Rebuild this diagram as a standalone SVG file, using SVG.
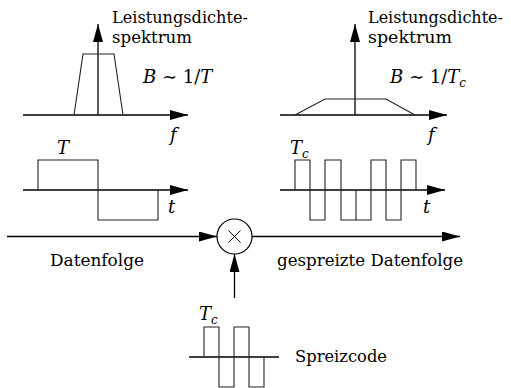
<svg xmlns="http://www.w3.org/2000/svg" width="511" height="388" viewBox="0 0 511 388">
<style>
.ax{stroke:#000;stroke-width:1.3;fill:none}
.wv{stroke:#222;stroke-width:1.1;fill:none}
text{font-family:'DejaVu Serif','Liberation Serif',serif;font-size:17px;fill:#000}
.m{font-size:18px}
.it{font-style:italic}
.sub{font-size:12px;font-style:italic}
</style>
<defs>
<marker id="ah" markerUnits="userSpaceOnUse" markerWidth="18" markerHeight="10" refX="18" refY="5" orient="auto">
<path d="M0,0 L18,5 L0,10 Z" fill="#000"/>
</marker>
</defs>
<g id="spectrum-left">
<line class="ax" x1="23" y1="115" x2="188" y2="115" marker-end="url(#ah)"/>
<line class="ax" x1="98" y1="115" x2="98" y2="24" marker-end="url(#ah)"/>
<polyline class="wv" points="74,115 83,54 114,54 123,115"/>
<text x="112" y="23" textLength="136" lengthAdjust="spacingAndGlyphs">Leistungsdichte-</text>
<text x="112" y="43" textLength="80" lengthAdjust="spacingAndGlyphs">spektrum</text>
<text class="m" x="143" y="83"><tspan class="it">B</tspan> ∼ 1/<tspan class="it">T</tspan></text>
<text class="m it" x="170" y="141">f</text>
</g>
<g id="spectrum-right">
<line class="ax" x1="280" y1="115" x2="447" y2="115" marker-end="url(#ah)"/>
<line class="ax" x1="355" y1="115" x2="355" y2="24" marker-end="url(#ah)"/>
<polyline class="wv" points="295,115 325,99 386,99 415,115"/>
<text x="368" y="23" textLength="135" lengthAdjust="spacingAndGlyphs">Leistungsdichte-</text>
<text x="368" y="43" textLength="84" lengthAdjust="spacingAndGlyphs">spektrum</text>
<text class="m" x="390" y="83"><tspan class="it">B</tspan> ∼ 1/<tspan class="it">T</tspan><tspan class="sub" dy="4">c</tspan></text>
<text class="m it" x="428" y="141">f</text>
</g>
<g id="data-signal">
<line class="ax" x1="23" y1="190" x2="188" y2="190" marker-end="url(#ah)"/>
<polyline class="wv" points="38,190 38,160 98,160 98,220 158,220 158,190"/>
<text class="m it" x="57" y="154">T</text>
<text class="m it" x="168" y="213">t</text>
</g>
<g id="spread-signal">
<line class="ax" x1="280" y1="190" x2="445" y2="190" marker-end="url(#ah)"/>
<polyline class="wv" points="295,190 295,160 310,160 310,220 325,220 325,160 341,160 341,220 356,220 356,190 356,220 371,220 371,160 386,160 386,220 401,220 401,160 416,160 416,190"/>
<text class="m" x="290" y="154"><tspan class="it">T</tspan><tspan class="sub" dy="4">c</tspan></text>
<text class="m it" x="423" y="213">t</text>
</g>
<g id="code-signal">
<line class="ax" x1="189" y1="357" x2="279" y2="357"/>
<polyline class="wv" points="204,357 204,327 219,327 219,387 234,387 234,327 249,327 249,387 264,387 264,357"/>
<text class="m" x="199" y="320"><tspan class="it">T</tspan><tspan class="sub" dy="4">c</tspan></text>
<text x="295" y="362" textLength="92" lengthAdjust="spacingAndGlyphs">Spreizcode</text>
</g>
<g id="multiplier">
<circle cx="234.5" cy="236.5" r="17.5" fill="none" stroke="#000" stroke-width="1.2"/>
<path d="M228.5,230.5 L240.5,242.5 M240.5,230.5 L228.5,242.5" stroke="#000" stroke-width="1"/>
</g>
<g id="connectors">
<line class="ax" x1="7" y1="236.5" x2="217" y2="236.5" marker-end="url(#ah)"/>
<line class="ax" x1="252" y1="236.5" x2="460" y2="236.5" marker-end="url(#ah)"/>
<line class="ax" x1="234.5" y1="298" x2="234.5" y2="254" marker-end="url(#ah)"/>
</g>
<g id="labels">
<text x="50" y="266" textLength="94" lengthAdjust="spacingAndGlyphs">Datenfolge</text>
<text x="277" y="266" textLength="186" lengthAdjust="spacingAndGlyphs">gespreizte Datenfolge</text>
</g>
</svg>
